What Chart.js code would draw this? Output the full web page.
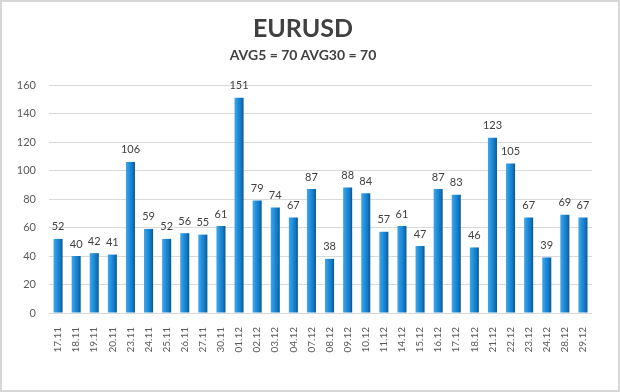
<!DOCTYPE html>
<html>
<head>
<meta charset="utf-8">
<script src="https://cdn.jsdelivr.net/npm/chart.js@4.4.1/dist/chart.umd.min.js"></script>
<style>
  html,body{margin:0;padding:0;background:#fff;}
  #wrap{position:relative;width:620px;height:392px;overflow:hidden;}
  #wrap canvas{position:absolute;left:0;top:0;}
  #frame{position:absolute;left:0;top:0;width:620px;height:392px;box-sizing:border-box;border:2px solid #d6d6d6;pointer-events:none;}
  .ttl{position:absolute;left:0;width:606px;text-align:center;font-family:Lato,sans-serif;font-weight:bold;color:#404040;white-space:nowrap;}
  #t1{top:15px;font-size:25px;line-height:25px;}
  #t2{top:48px;font-size:14px;line-height:14px;}
</style>
</head>
<body>
<div id="wrap">
  <canvas id="c" width="620" height="392"></canvas>
  <div class="ttl" id="t1">EURUSD</div>
  <div class="ttl" id="t2">AVG5 = 70 AVG30 = 70</div>
  <div id="frame"></div>
</div>
<script>
// EURUSD daily volatility, points
const days=['17.11','18.11','19.11','20.11','23.11','24.11','25.11','26.11','27.11','30.11','01.12','02.12','03.12','04.12','07.12','08.12','09.12','10.12','11.12','14.12','15.12','16.12','17.12','18.12','21.12','22.12','23.12','24.12','28.12','29.12'];
const vals=[52,40,42,41,106,59,52,56,55,61,151,79,74,67,87,38,88,84,57,61,47,87,83,46,123,105,67,39,69,67];
const yTicks=[0,20,40,60,80,100,120,140,160];

Chart.defaults.font.family='Lato, sans-serif';
Chart.defaults.color='#595959';

// value labels above bars
const topLabels={
  id:'topLabels',
  afterDatasetsDraw(chart){
    const {ctx}=chart; const meta=chart.getDatasetMeta(0);
    ctx.save(); ctx.font='11px Lato, sans-serif'; ctx.fillStyle='#404040'; ctx.textAlign='center'; ctx.textBaseline='middle';
    meta.data.forEach((b,i)=>{ ctx.fillText(String(vals[i]), b.x, b.y-12); });
    ctx.restore();
  }
};

function barFill(c){
  const chart=c.chart, x=chart.scales.x;
  if(!chart.chartArea||!x) return '#1c8ad6';
  const cx=x.getPixelForValue(c.dataIndex), w=x.width/days.length*0.5;
  const g=chart.ctx.createLinearGradient(cx-w/2,0,cx+w/2,0);
  g.addColorStop(0,'#3fa8ec'); g.addColorStop(0.5,'#1b87d4'); g.addColorStop(0.75,'#1276c0'); g.addColorStop(1,'#09548f');
  return g;
}

new Chart(document.getElementById('c'),{
  type:'bar',
  data:{labels:days,datasets:[{data:vals,backgroundColor:barFill,borderWidth:0,barPercentage:0.5,categoryPercentage:1}]},
  options:{
    responsive:false,animation:false,
    layout:{padding:{top:85,right:28,left:0,bottom:0}},
    plugins:{legend:{display:false},tooltip:{enabled:false}},
    scales:{
      x:{
        grid:{display:false},border:{display:false},
        ticks:{minRotation:90,maxRotation:90,autoSkip:false,font:{size:10},color:'#595959',padding:6},
        afterFit(s){ s.height=79; }
      },
      y:{
        min:0,max:160,
        afterBuildTicks(s){ s.ticks=yTicks.map(v=>({value:v})); },
        grid:{color:'#d9d9d9',drawTicks:false},border:{display:false},
        ticks:{font:{size:11},color:'#595959',padding:13},
        afterFit(s){ s.width=49; }
      }
    }
  },
  plugins:[topLabels]
});
</script>
</body>
</html>
